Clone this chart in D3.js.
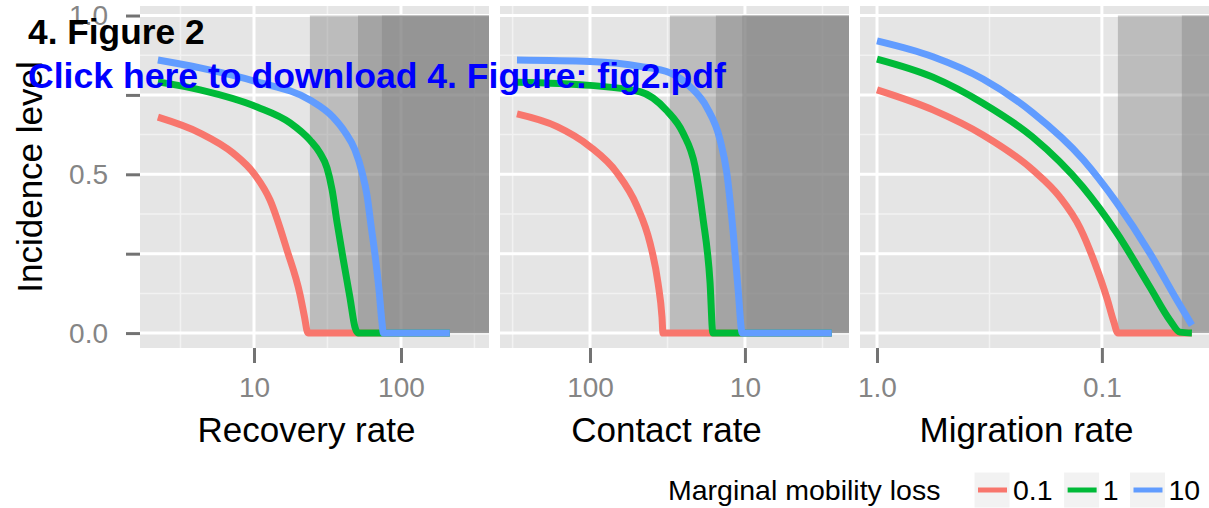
<!DOCTYPE html>
<html><head><meta charset="utf-8">
<script src="https://cdn.jsdelivr.net/npm/d3@7"></script>
<style>
body{margin:0;background:#fff}
text{font-family:"Liberation Sans",Arial,Helvetica,sans-serif}
</style>
</head><body>
<svg id="chart" width="1209" height="508"></svg>
<script>
// ---------------- data ----------------
const seriesLevels = ["0.1", "1", "10"];
const seriesColors = ["#F8766D", "#00BA38", "#619CFF"];
const panelTitles = ["Recovery rate", "Contact rate", "Migration rate"];
const yTickValues = [0, 0.25, 0.5, 0.75, 1];
const yTickLabels = ["0.0", "", "0.5", "", "1.0"];
const yMinorValues = [0.125, 0.375, 0.625, 0.875];

// Panel 1: recovery rate
const recoveryDomain = [1.677, 397];
const recoveryTicks = [10, 100];
const recoveryTickLabels = ["10", "100"];
const recoveryMinor = [3.16, 31.6, 316];
const recoveryShades = [24.0, 51.0, 74.2];
const recX01 = [2.22, 4.3, 7.2, 10.16, 12.85, 16.8, 20.6, 22.0, 23.3, 215];
const recY01 = [0.68, 0.63, 0.567, 0.498, 0.419, 0.26, 0.12, 0.054, 0, 0];
const recX1 = [2.22, 4.3, 10.5, 17.6, 24.0, 28.1, 31.4, 34.0, 36.7, 40.3, 45.0, 48.6, 51.0, 215];
const recY1 = [0.791, 0.766, 0.712, 0.662, 0.608, 0.567, 0.52, 0.451, 0.35, 0.237, 0.111, 0.019, 0, 0];
const recX10 = [2.22, 4.3, 10.5, 24.0, 34.5, 41.6, 48.6, 54.3, 58.7, 62.5, 66.6, 70.9, 74.2, 75.9, 215];
const recY10 = [0.86, 0.835, 0.791, 0.734, 0.68, 0.633, 0.577, 0.507, 0.435, 0.34, 0.246, 0.136, 0.035, 0, 0];

// Panel 2: contact rate (reversed)
const contactDomain = [381, 2.13];
const contactTicks = [100, 10];
const contactTickLabels = ["100", "10"];
const contactMinor = [316, 31.6, 3.16];
const contactShades = [30.5, 15.4, 10.4];
const conX01 = [296, 163, 100, 67, 49.8, 41.0, 36.4, 34.3, 33.8, 2.75];
const conY01 = [0.69, 0.65, 0.587, 0.505, 0.40, 0.284, 0.158, 0.05, 0, 0];
const conX1 = [296, 100, 47.5, 31.9, 25.1, 21.0, 18.7, 16.8, 16.1, 2.75];
const conY1 = [0.79, 0.78, 0.76, 0.70, 0.63, 0.525, 0.365, 0.16, 0, 0];
const conX10 = [296, 100, 47.5, 30.5, 22.6, 17.6, 14.5, 13.1, 11.9, 11.1, 10.4, 2.75];
const conY10 = [0.86, 0.855, 0.84, 0.82, 0.776, 0.71, 0.61, 0.505, 0.315, 0.145, 0, 0];

// Panel 3: migration rate (reversed)
const migrationDomain = [1.19, 0.0334];
const migrationTicks = [1, 0.1];
const migrationTickLabels = ["1.0", "0.1"];
const migrationMinor = [0.316];
const migrationShades = [0.0849, 0.0441];
const migX01 = [1.0, 0.564, 0.338, 0.203, 0.154, 0.125, 0.108, 0.095, 0.0885, 0.0849, 0.0398];
const migY01 = [0.766, 0.703, 0.624, 0.514, 0.429, 0.331, 0.224, 0.11, 0.035, 0, 0];
const migX1 = [1.0, 0.564, 0.338, 0.203, 0.1215, 0.0858, 0.0612, 0.0499, 0.045, 0.0398];
const migY1 = [0.863, 0.806, 0.724, 0.617, 0.46, 0.315, 0.145, 0.041, 0.003, 0];
const migX10 = [1.0, 0.564, 0.338, 0.203, 0.121, 0.0858, 0.0612, 0.0464, 0.0398];
const migY10 = [0.92, 0.87, 0.80, 0.694, 0.546, 0.41, 0.252, 0.104, 0.025];

// ---------------- layout ----------------
const panelLeft = [140, 500, 860];
const panelW = 349;
const panelTop = 6, panelBottom = 348;
const yDomain = [-0.047, 1.03];

const panels = [
  {domain: recoveryDomain, ticks: recoveryTicks, labels: recoveryTickLabels, minor: recoveryMinor, shades: recoveryShades,
   series: [[recX01, recY01], [recX1, recY1], [recX10, recY10]]},
  {domain: contactDomain, ticks: contactTicks, labels: contactTickLabels, minor: contactMinor, shades: contactShades,
   series: [[conX01, conY01], [conX1, conY1], [conX10, conY10]]},
  {domain: migrationDomain, ticks: migrationTicks, labels: migrationTickLabels, minor: migrationMinor, shades: migrationShades,
   series: [[migX01, migY01], [migX1, migY1], [migX10, migY10]]}
];

const svg = d3.select("#chart");
const y = d3.scaleLinear().domain(yDomain).range([panelBottom, panelTop]);

panels.forEach((p, pi) => {
  const x0 = panelLeft[pi];
  const x = d3.scaleLog().domain(p.domain).range([x0, x0 + panelW]);
  const g = svg.append("g");
  const xMin = x0, xMax = x0 + panelW;

  g.append("rect").attr("x", xMin).attr("y", panelTop).attr("width", panelW)
    .attr("height", panelBottom - panelTop).attr("fill", "#E5E5E5");

  g.selectAll(".ym").data(yMinorValues).join("line")
    .attr("x1", xMin).attr("x2", xMax).attr("y1", d => y(d)).attr("y2", d => y(d))
    .attr("stroke", "#F2F2F2").attr("stroke-width", 1.5);
  g.selectAll(".xm").data(p.minor).join("line")
    .attr("x1", d => x(d)).attr("x2", d => x(d)).attr("y1", panelTop).attr("y2", panelBottom)
    .attr("stroke", "#F2F2F2").attr("stroke-width", 1.5);
  g.selectAll(".yM").data(yTickValues).join("line")
    .attr("x1", xMin).attr("x2", xMax).attr("y1", d => y(d)).attr("y2", d => y(d))
    .attr("stroke", "#FFFFFF").attr("stroke-width", 3);
  g.selectAll(".xM").data(p.ticks).join("line")
    .attr("x1", d => x(d)).attr("x2", d => x(d)).attr("y1", panelTop).attr("y2", panelBottom)
    .attr("stroke", "#FFFFFF").attr("stroke-width", 3);

  g.selectAll(".shade").data(p.shades).join("rect")
    .attr("x", d => x(d))
    .attr("width", d => xMax - x(d))
    .attr("y", y(1)).attr("height", y(0) - y(1))
    .attr("fill", "#7F7F7F").attr("fill-opacity", 0.4);

  const line = d3.line().x(d => x(d[0])).y(d => y(d[1])).curve(d3.curveMonotoneX);
  p.series.forEach((s, si) => {
    const pts = s[0].map((v, i) => [v, s[1][i]]).sort((a, b) => x(a[0]) - x(b[0]));
    g.append("path").attr("d", line(pts)).attr("fill", "none")
      .attr("stroke", seriesColors[si]).attr("stroke-width", 7)
      .attr("stroke-linejoin", "round").attr("stroke-linecap", "butt");
  });

  const ax = d3.axisBottom(x).tickValues(p.ticks)
    .tickFormat((d, i) => p.labels[i]).tickSize(15).tickPadding(14);
  const axg = svg.append("g").attr("transform", `translate(0,${panelBottom})`).call(ax);
  axg.select(".domain").remove();
  axg.selectAll(".tick line").attr("stroke", "#737373").attr("stroke-width", 3);
  axg.selectAll(".tick text").attr("fill", "#858585").attr("font-size", 28)
    .style("font-family", '"Liberation Sans",Arial,sans-serif');

  svg.append("text").attr("x", x0 + panelW / 2 - 8).attr("y", 442)
    .attr("text-anchor", "middle").attr("font-size", 35).attr("fill", "#000")
    .text(panelTitles[pi]);
});

const ay = d3.axisLeft(y).tickValues(yTickValues)
  .tickFormat((d, i) => yTickLabels[i]).tickSize(14).tickPadding(18);
const ayg = svg.append("g").attr("transform", `translate(${panelLeft[0]},0)`).call(ay);
ayg.select(".domain").remove();
ayg.selectAll(".tick line").attr("stroke", "#737373").attr("stroke-width", 3);
ayg.selectAll(".tick text").attr("fill", "#858585").attr("font-size", 28)
  .style("font-family", '"Liberation Sans",Arial,sans-serif');

svg.append("text")
  .attr("transform", `translate(42,${(panelTop + panelBottom) / 2}) rotate(-90)`)
  .attr("text-anchor", "middle").attr("font-size", 35).attr("fill", "#000")
  .text("Incidence level");

// legend
const lg = svg.append("g");
lg.append("text").attr("x", 668).attr("y", 500)
  .attr("font-size", 28.5).attr("fill", "#000").text("Marginal mobility loss");
let lx = 974;
seriesLevels.forEach((lev, i) => {
  lg.append("rect").attr("x", lx).attr("y", 472).attr("width", 36).attr("height", 36)
    .attr("fill", "#F2F2F2").attr("stroke", "#FFFFFF").attr("stroke-width", 1);
  lg.append("line").attr("x1", lx + 4).attr("x2", lx + 33).attr("y1", 490).attr("y2", 490)
    .attr("stroke", seriesColors[i]).attr("stroke-width", 5);
  const t = lg.append("text").attr("x", lx + 39).attr("y", 500)
    .attr("font-size", 28.5).attr("fill", "#000").text(lev);
  lx += 39 + t.node().getComputedTextLength() + 11;
});

// overlays from the document
svg.append("text").attr("x", 28).attr("y", 44).attr("font-size", 35.3)
  .attr("font-weight", "bold").attr("fill", "#000").text("4. Figure 2");
svg.append("text").attr("x", 28).attr("y", 88).attr("font-size", 35.6)
  .attr("font-weight", "bold").attr("fill", "#0000FF")
  .text("Click here to download 4. Figure: fig2.pdf");
</script>
</body></html>
